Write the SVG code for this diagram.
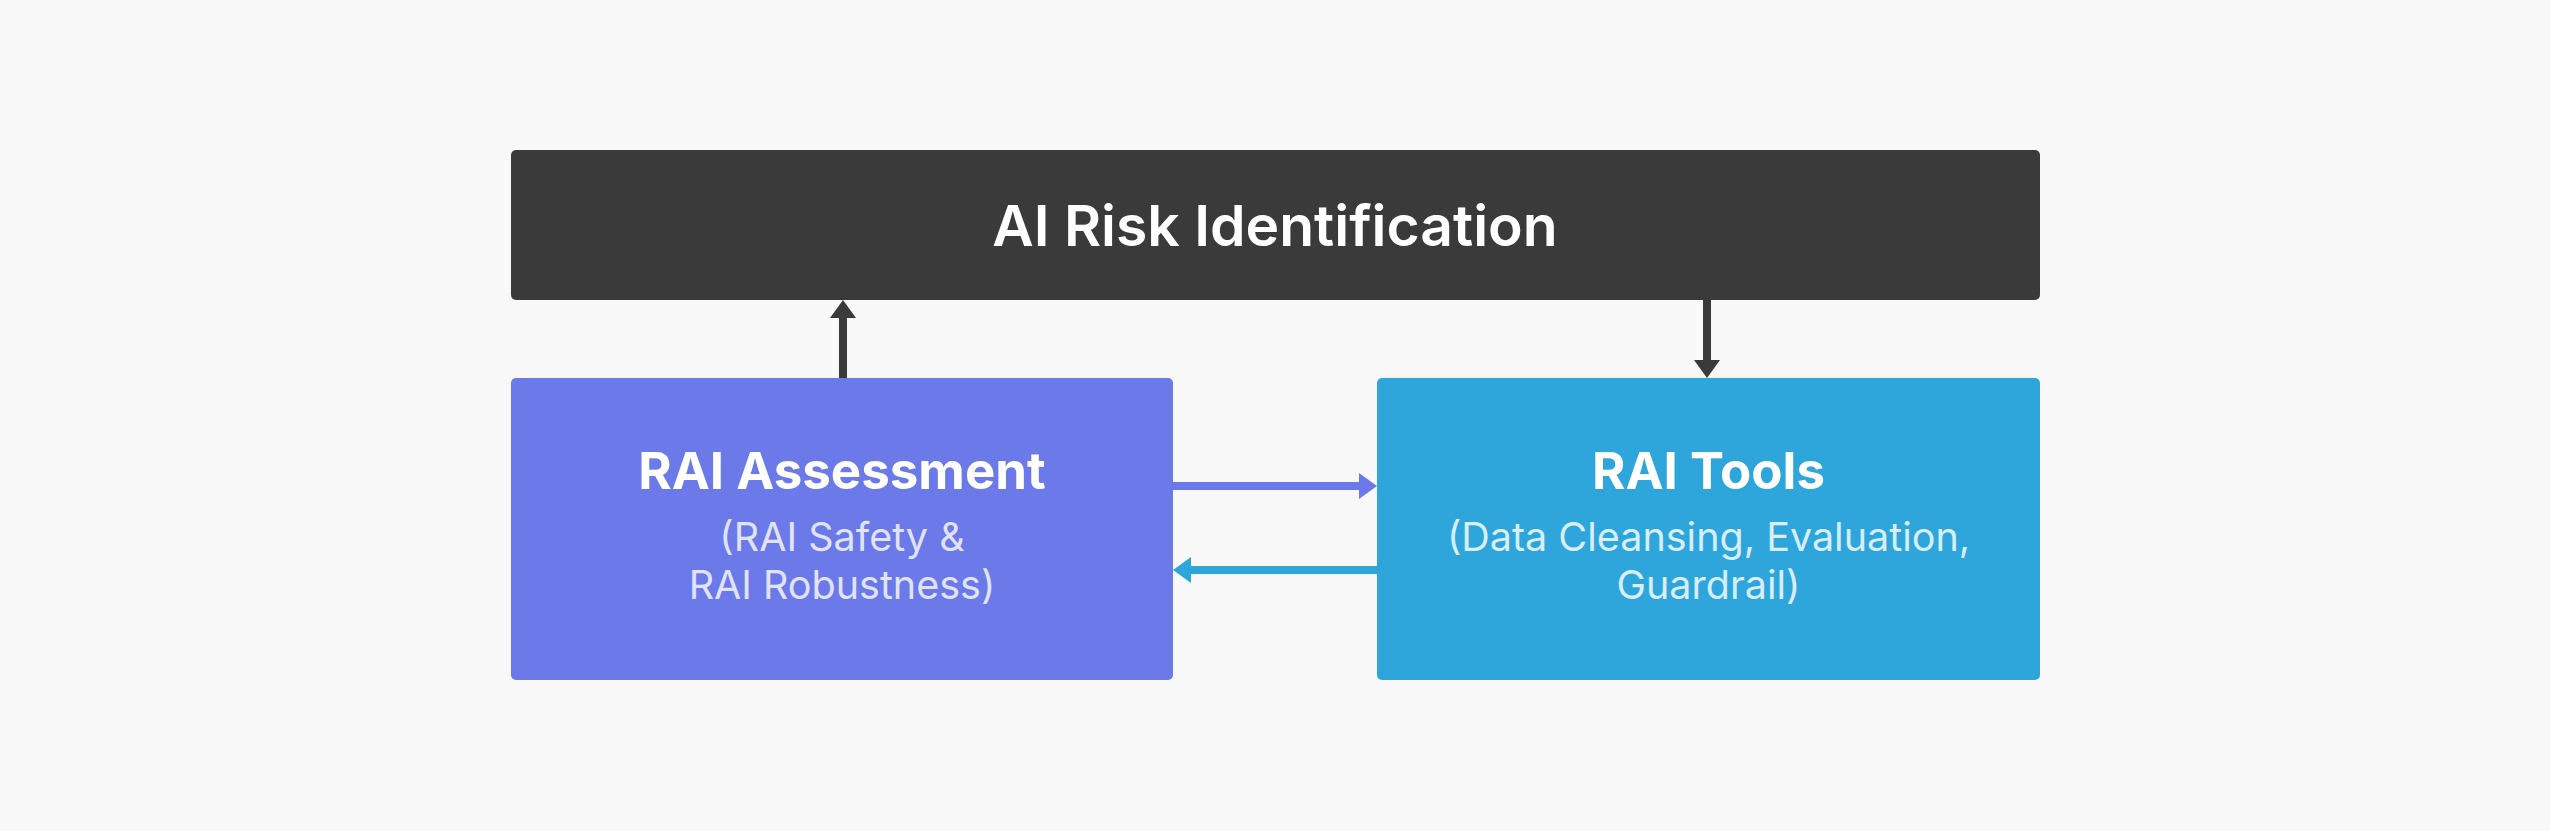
<svg xmlns="http://www.w3.org/2000/svg" width="2550" height="831" viewBox="0 0 2550 831">
<style>
.title{font-family:Inter,"Noto Sans","Liberation Sans",sans-serif;fill:#ffffff;text-anchor:middle}
.t1{font-size:57px;font-weight:600}
.t2{font-size:51px;font-weight:700}
.sub{font-family:Inter,"Noto Sans","Liberation Sans",sans-serif;font-size:39.5px;font-weight:400;text-anchor:middle}
</style>
<defs>
<marker id="hDark" markerUnits="userSpaceOnUse" markerWidth="18" markerHeight="26" refX="0" refY="13" orient="auto" viewBox="0 0 18 26"><path d="M0,0 L18,13 L0,26 z" fill="#3a3a3a"/></marker>
<marker id="hPurple" markerUnits="userSpaceOnUse" markerWidth="18" markerHeight="26" refX="0" refY="13" orient="auto" viewBox="0 0 18 26"><path d="M0,0 L18,13 L0,26 z" fill="#6b7ae8"/></marker>
<marker id="hBlue" markerUnits="userSpaceOnUse" markerWidth="18" markerHeight="26" refX="0" refY="13" orient="auto" viewBox="0 0 18 26"><path d="M0,0 L18,13 L0,26 z" fill="#2ea6dc"/></marker>
</defs>
<rect width="2550" height="831" fill="#f8f8f8"/>
<g id="connectors" stroke-width="8" fill="none">
<line x1="843" y1="378" x2="843" y2="318" stroke="#3a3a3a" marker-end="url(#hDark)"/>
<line x1="1707" y1="300" x2="1707" y2="360" stroke="#3a3a3a" marker-end="url(#hDark)"/>
<line x1="1173" y1="486" x2="1359" y2="486" stroke="#6b7ae8" marker-end="url(#hPurple)"/>
<line x1="1377" y1="570" x2="1191" y2="570" stroke="#2ea6dc" marker-end="url(#hBlue)"/>
</g>
<g id="node-risk">
<rect x="511" y="150" width="1529" height="150" rx="5" fill="#3a3a3a"/>
<text class="title t1" x="1275" y="246">AI Risk Identification</text>
</g>
<g id="node-assessment">
<rect x="511" y="378" width="662" height="302" rx="5" fill="#6b7ae8"/>
<text class="title t2" x="842" y="489">RAI Assessment</text>
<text class="sub" x="842" y="551" fill="#e0e3fa">(RAI Safety &amp;</text>
<text class="sub" x="842" y="598.5" fill="#e0e3fa">RAI Robustness)</text>
</g>
<g id="node-tools">
<rect x="1377" y="378" width="663" height="302" rx="5" fill="#2ea6dc"/>
<text class="title t2" x="1708.5" y="489">RAI Tools</text>
<text class="sub" x="1708.5" y="551" fill="#d8eef9">(Data Cleansing, Evaluation,</text>
<text class="sub" x="1708.5" y="598.5" fill="#d8eef9">Guardrail)</text>
</g>
</svg>
